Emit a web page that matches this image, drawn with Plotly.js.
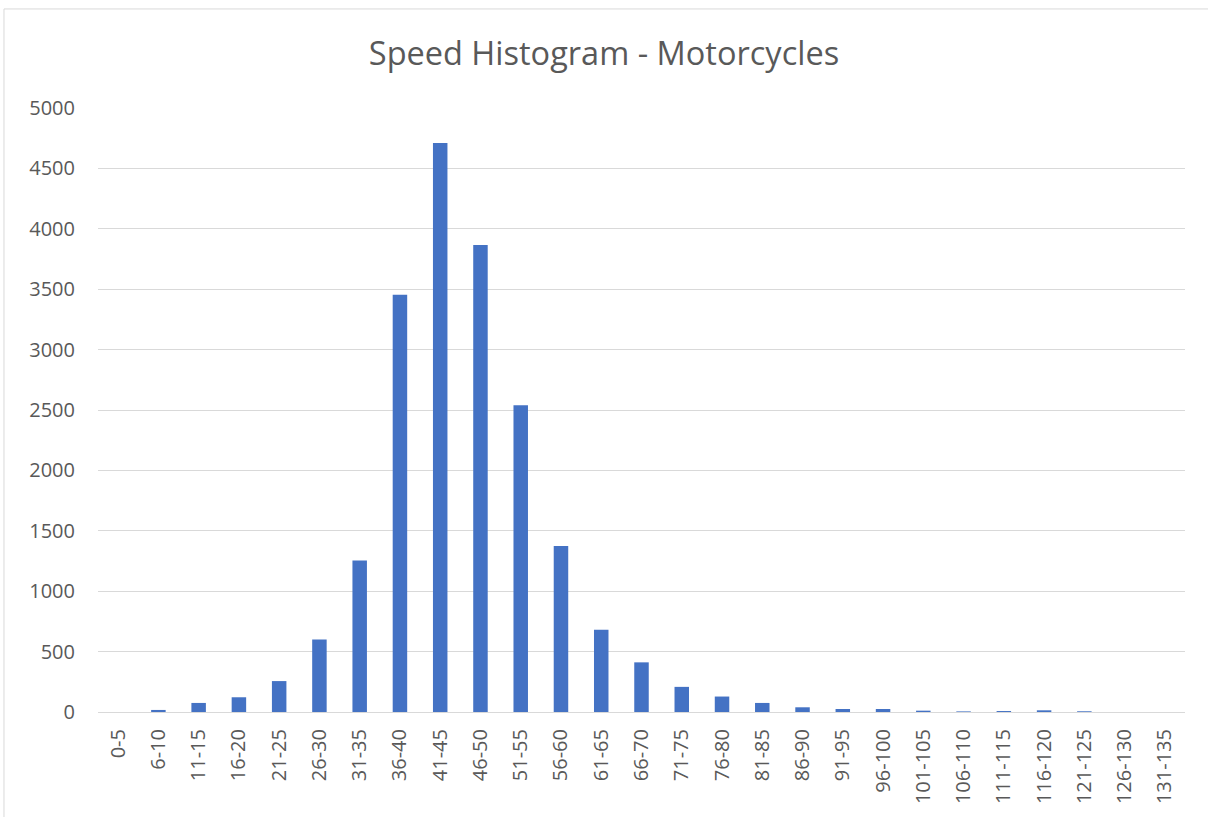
<!DOCTYPE html>
<html>
<head>
<meta charset="utf-8">
<script src="https://cdn.plot.ly/plotly-3.0.1.min.js"></script>
<style>
html,body{margin:0;padding:0;background:#fff;}
#chart{width:1208px;height:817px;}
</style>
</head>
<body>
<div id="chart"></div>
<script>
const categories = ["0-5","6-10","11-15","16-20","21-25","26-30","31-35","36-40","41-45","46-50","51-55","56-60","61-65","66-70","71-75","76-80","81-85","86-90","91-95","96-100","101-105","106-110","111-115","116-120","121-125","126-130","131-135"];
const counts = [0,17,75,122,256,600,1255,3455,4710,3865,2540,1375,681,411,208,128,75,39,25,25,11,5,8,14,6,0,0];
const yTicks = [0,500,1000,1500,2000,2500,3000,3500,4000,4500,5000];

const trace = {
  type: 'bar',
  x: categories,
  y: counts,
  marker: {color: '#4472C4', line: {width: 0}},
  hoverinfo: 'x+y'
};

const font = '"Open Sans", "Liberation Sans", sans-serif';
const layout = {
  width: 1208, height: 817,
  margin: {l: 98, r: 23, t: 108, b: 105},
  paper_bgcolor: '#ffffff', plot_bgcolor: '#ffffff',
  title: {text: 'Speed Histogram - Motorcycles', x: 0.5, xanchor: 'center', y: 0.934, yanchor: 'middle',
          font: {family: font, size: 32.5, color: '#595959'}},
  bargap: 0.64,
  showlegend: false,
  xaxis: {
    type: 'category',
    tickangle: -90,
    tickfont: {family: font, size: 20, color: '#595959'},
    showgrid: false,
    showline: true, linecolor: '#D9D9D9', linewidth: 1,
    ticks: '', ticklen: 0, ticklabelstandoff: 8
  },
  yaxis: {
    range: [0, 5000],
    tickvals: yTicks,
    ticktext: yTicks.map(String),
    tickfont: {family: font, size: 20, color: '#595959'},
    showgrid: true, gridcolor: '#D9D9D9', gridwidth: 1,
    zeroline: false, showline: false, ticks: '', ticklabelstandoff: 22
  },
  shapes: [{type: 'rect', xref: 'paper', yref: 'paper', x0: -0.0865, x1: 1.05, y0: -0.25, y1: 1.164,
            line: {color: '#D9D9D9', width: 1}, fillcolor: 'rgba(0,0,0,0)', layer: 'below'}]
};

Plotly.newPlot('chart', [trace], layout, {displayModeBar: false, staticPlot: true});
</script>
</body>
</html>
